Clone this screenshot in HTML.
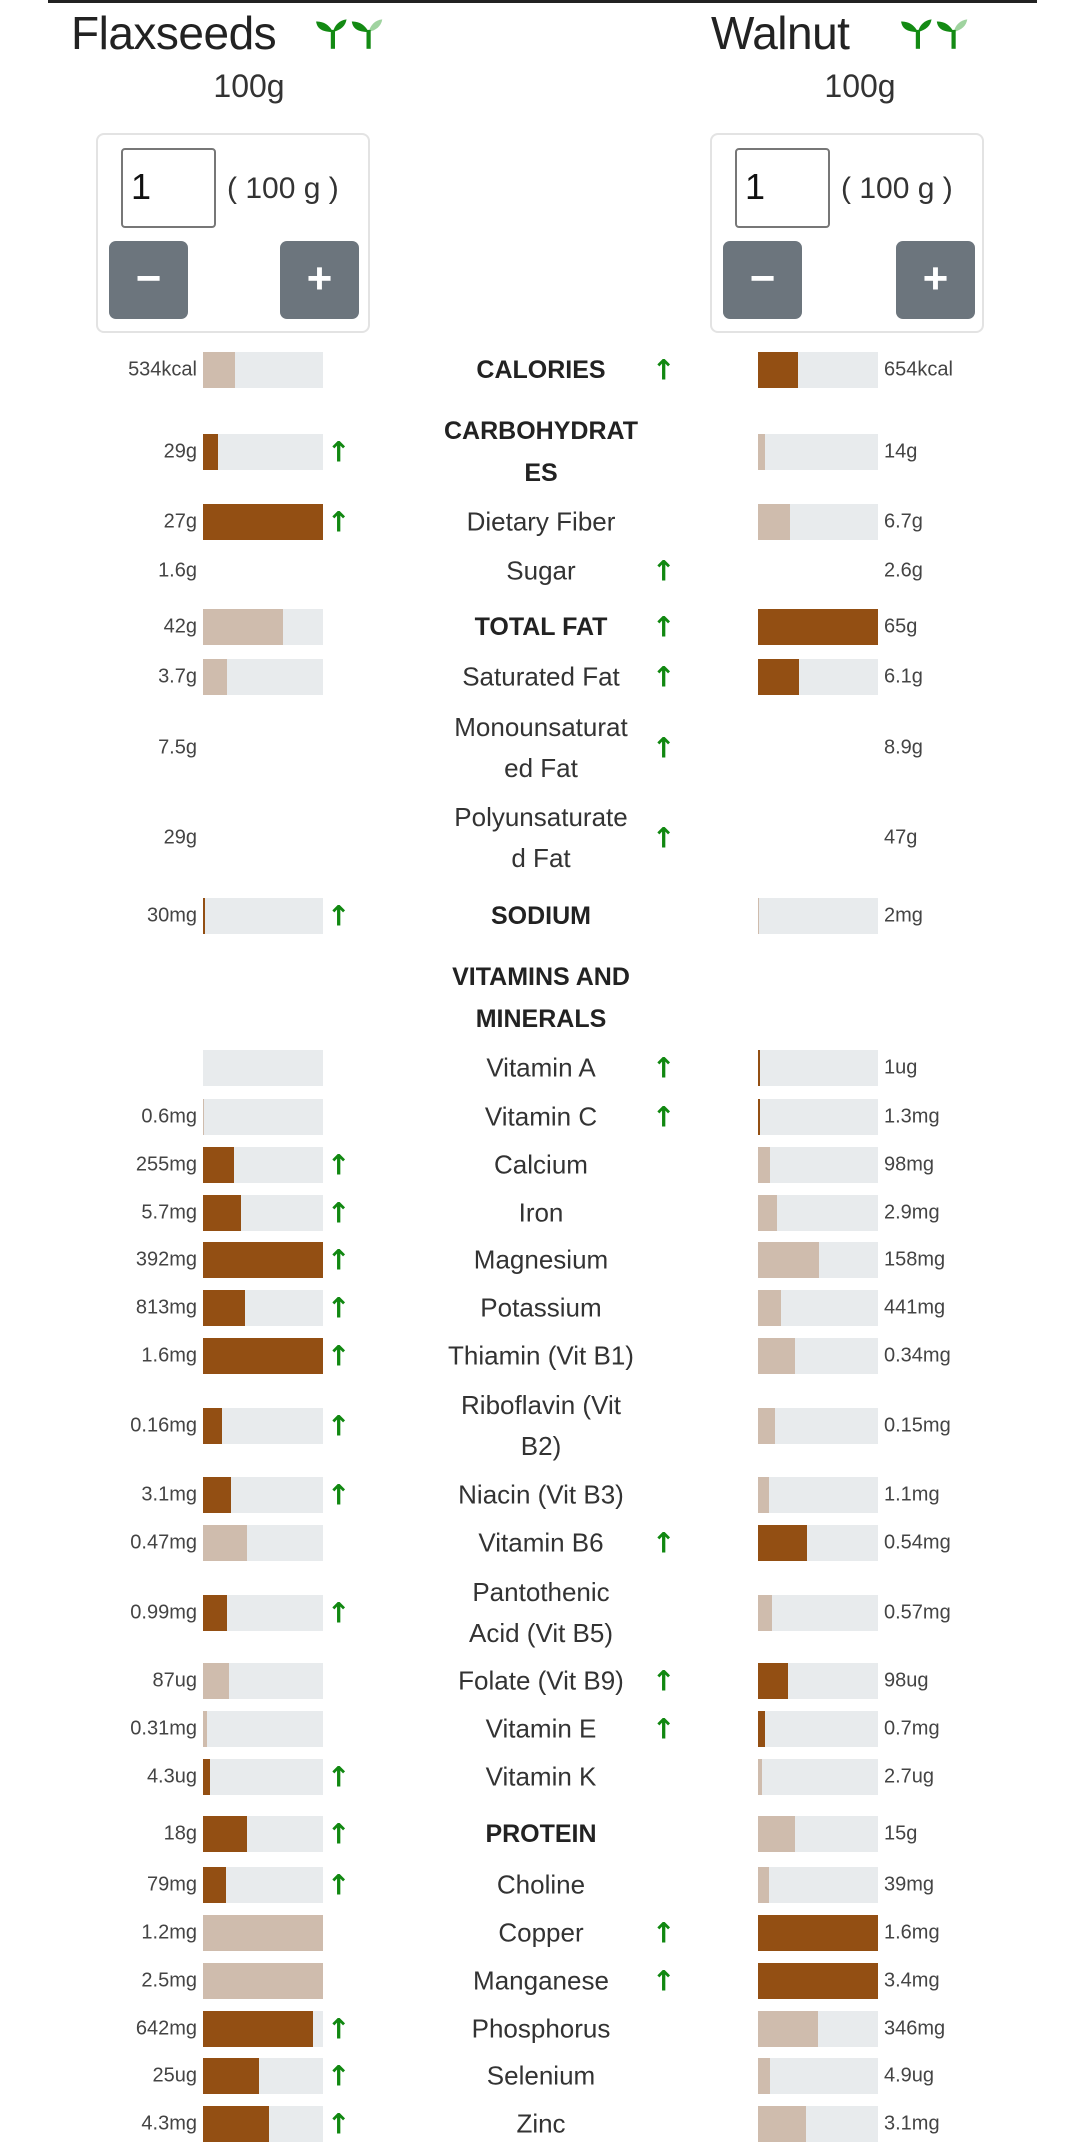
<!DOCTYPE html>
<html><head><meta charset="utf-8"><style>
*{margin:0;padding:0;box-sizing:border-box}
body{width:1080px;height:2134px;background:#fff;position:relative;overflow:hidden;font-family:"Liberation Sans",sans-serif;color:#333}
.top{position:absolute;left:48px;top:0;width:989px;height:3px;background:#222}
.title{position:absolute;top:6px;font-size:46px;color:#222;letter-spacing:-0.5px}
.g{position:absolute;top:68px;font-size:32px;color:#333;width:200px;text-align:center}
.box{position:absolute;top:133px;width:274px;height:200px;border:2px solid #e3e3e3;border-radius:8px}
.inp{position:absolute;top:13px;left:23px;width:95px;height:80px;border:2px solid #777;border-radius:4px;font-size:36px;padding:16px 0 0 8px;color:#111}
.gg{position:absolute;top:37px;left:129px;font-size:30px;color:#333}
.btn{position:absolute;top:106px;width:79px;height:78px;background:#6c757d;border-radius:7px;color:#fff;font-size:44px;font-weight:bold;text-align:center;line-height:76px}
.row{position:absolute;left:0;width:1080px;height:0}
.row>*{position:absolute;top:0;transform:translateY(-50%)}
.v{font-size:20px;color:#444;white-space:nowrap}
.vl{right:883px}.vr{left:884px}
.b{height:36px;width:120px;background:#e8ebed}
.bl{left:203px}.br{left:758px}
.b i{display:block;height:100%}
.d{background:#934f13}.l{background:#cfbcad}
.lab{left:431px;width:220px;text-align:center;font-size:26px;color:#333;line-height:41px}
.lab b{font-weight:bold;font-size:25px;color:#222}
.a{font-family:"DejaVu Sans",sans-serif;color:#118811;font-size:28px;font-weight:bold}
.al{left:327px}.ar{left:652px}
</style></head><body>
<div class="top"></div>
<div class="title" style="left:71px">Flaxseeds</div>
<svg style="position:absolute;left:314px;top:15px" width="84" height="34" viewBox="0 0 80 32"><g fill="#138a13"><path d="M18 32V16C14 8 8 6 2 6c1 7 6 10 16 10z"/><path d="M18 16c2-7 6-11 13-12-1 6-5 10-13 12z"/><path d="M52 32V16c-4-8-10-10-16-10 1 7 6 10 16 10z"/></g><path d="M52 16c2-7 6-11 13-12-1 6-5 10-13 12z" fill="#9fd39f"/><rect x="16" y="14" width="4" height="18" fill="#138a13"/><rect x="50" y="14" width="4" height="18" fill="#138a13"/></svg>
<div class="title" style="left:711px">Walnut</div>
<svg style="position:absolute;left:899px;top:15px" width="84" height="34" viewBox="0 0 80 32"><g fill="#138a13"><path d="M18 32V16C14 8 8 6 2 6c1 7 6 10 16 10z"/><path d="M18 16c2-7 6-11 13-12-1 6-5 10-13 12z"/><path d="M52 32V16c-4-8-10-10-16-10 1 7 6 10 16 10z"/></g><path d="M52 16c2-7 6-11 13-12-1 6-5 10-13 12z" fill="#9fd39f"/><rect x="16" y="14" width="4" height="18" fill="#138a13"/><rect x="50" y="14" width="4" height="18" fill="#138a13"/></svg>
<div class="g" style="left:149px">100g</div>
<div class="g" style="left:760px">100g</div>
<div class="box" style="left:96px"><div class="inp">1</div><div class="gg">( 100 g )</div><div class="btn" style="left:11px">−</div><div class="btn" style="left:182px">+</div></div>
<div class="box" style="left:710px"><div class="inp">1</div><div class="gg">( 100 g )</div><div class="btn" style="left:11px">−</div><div class="btn" style="left:184px">+</div></div>

<div class="row" style="top:370px"><div class="v vl">534kcal</div><div class="b bl"><i class="l" style="width:27%"></i></div><div class="lab"><b>CALORIES</b></div><div class="a ar">↑</div><div class="b br"><i class="d" style="width:33%"></i></div><div class="v vr">654kcal</div></div>
<div class="row" style="top:452px"><div class="v vl">29g</div><div class="b bl"><i class="d" style="width:12.5%"></i></div><div class="a al">↑</div><div class="lab"><b>CARBOHYDRAT<br>ES</b></div><div class="b br"><i class="l" style="width:6%"></i></div><div class="v vr">14g</div></div>
<div class="row" style="top:522px"><div class="v vl">27g</div><div class="b bl"><i class="d" style="width:100%"></i></div><div class="a al">↑</div><div class="lab">Dietary Fiber</div><div class="b br"><i class="l" style="width:27%"></i></div><div class="v vr">6.7g</div></div>
<div class="row" style="top:571px"><div class="v vl">1.6g</div><div class="lab">Sugar</div><div class="a ar">↑</div><div class="v vr">2.6g</div></div>
<div class="row" style="top:627px"><div class="v vl">42g</div><div class="b bl"><i class="l" style="width:67%"></i></div><div class="lab"><b>TOTAL FAT</b></div><div class="a ar">↑</div><div class="b br"><i class="d" style="width:100%"></i></div><div class="v vr">65g</div></div>
<div class="row" style="top:677px"><div class="v vl">3.7g</div><div class="b bl"><i class="l" style="width:20%"></i></div><div class="lab">Saturated Fat</div><div class="a ar">↑</div><div class="b br"><i class="d" style="width:34%"></i></div><div class="v vr">6.1g</div></div>
<div class="row" style="top:748px"><div class="v vl">7.5g</div><div class="lab">Monounsaturat<br>ed Fat</div><div class="a ar">↑</div><div class="v vr">8.9g</div></div>
<div class="row" style="top:838px"><div class="v vl">29g</div><div class="lab">Polyunsaturate<br>d Fat</div><div class="a ar">↑</div><div class="v vr">47g</div></div>
<div class="row" style="top:916px"><div class="v vl">30mg</div><div class="b bl"><i class="d" style="width:2%"></i></div><div class="a al">↑</div><div class="lab"><b>SODIUM</b></div><div class="b br"><i class="l" style="width:1%"></i></div><div class="v vr">2mg</div></div>
<div class="row" style="top:998px"><div class="lab"><b>VITAMINS AND<br>MINERALS</b></div></div>
<div class="row" style="top:1068px"><div class="b bl"></div><div class="lab">Vitamin A</div><div class="a ar">↑</div><div class="b br"><i class="d" style="width:1.5%"></i></div><div class="v vr">1ug</div></div>
<div class="row" style="top:1117px"><div class="v vl">0.6mg</div><div class="b bl"><i class="l" style="width:1%"></i></div><div class="lab">Vitamin C</div><div class="a ar">↑</div><div class="b br"><i class="d" style="width:2%"></i></div><div class="v vr">1.3mg</div></div>
<div class="row" style="top:1165px"><div class="v vl">255mg</div><div class="b bl"><i class="d" style="width:26%"></i></div><div class="a al">↑</div><div class="lab">Calcium</div><div class="b br"><i class="l" style="width:10%"></i></div><div class="v vr">98mg</div></div>
<div class="row" style="top:1213px"><div class="v vl">5.7mg</div><div class="b bl"><i class="d" style="width:32%"></i></div><div class="a al">↑</div><div class="lab">Iron</div><div class="b br"><i class="l" style="width:16%"></i></div><div class="v vr">2.9mg</div></div>
<div class="row" style="top:1260px"><div class="v vl">392mg</div><div class="b bl"><i class="d" style="width:100%"></i></div><div class="a al">↑</div><div class="lab">Magnesium</div><div class="b br"><i class="l" style="width:51%"></i></div><div class="v vr">158mg</div></div>
<div class="row" style="top:1308px"><div class="v vl">813mg</div><div class="b bl"><i class="d" style="width:35%"></i></div><div class="a al">↑</div><div class="lab">Potassium</div><div class="b br"><i class="l" style="width:19%"></i></div><div class="v vr">441mg</div></div>
<div class="row" style="top:1356px"><div class="v vl">1.6mg</div><div class="b bl"><i class="d" style="width:100%"></i></div><div class="a al">↑</div><div class="lab">Thiamin (Vit B1)</div><div class="b br"><i class="l" style="width:31%"></i></div><div class="v vr">0.34mg</div></div>
<div class="row" style="top:1426px"><div class="v vl">0.16mg</div><div class="b bl"><i class="d" style="width:16%"></i></div><div class="a al">↑</div><div class="lab">Riboflavin (Vit<br>B2)</div><div class="b br"><i class="l" style="width:14%"></i></div><div class="v vr">0.15mg</div></div>
<div class="row" style="top:1495px"><div class="v vl">3.1mg</div><div class="b bl"><i class="d" style="width:23%"></i></div><div class="a al">↑</div><div class="lab">Niacin (Vit B3)</div><div class="b br"><i class="l" style="width:9%"></i></div><div class="v vr">1.1mg</div></div>
<div class="row" style="top:1543px"><div class="v vl">0.47mg</div><div class="b bl"><i class="l" style="width:37%"></i></div><div class="lab">Vitamin B6</div><div class="a ar">↑</div><div class="b br"><i class="d" style="width:41%"></i></div><div class="v vr">0.54mg</div></div>
<div class="row" style="top:1613px"><div class="v vl">0.99mg</div><div class="b bl"><i class="d" style="width:20%"></i></div><div class="a al">↑</div><div class="lab">Pantothenic<br>Acid (Vit B5)</div><div class="b br"><i class="l" style="width:12%"></i></div><div class="v vr">0.57mg</div></div>
<div class="row" style="top:1681px"><div class="v vl">87ug</div><div class="b bl"><i class="l" style="width:22%"></i></div><div class="lab">Folate (Vit B9)</div><div class="a ar">↑</div><div class="b br"><i class="d" style="width:25%"></i></div><div class="v vr">98ug</div></div>
<div class="row" style="top:1729px"><div class="v vl">0.31mg</div><div class="b bl"><i class="l" style="width:3%"></i></div><div class="lab">Vitamin E</div><div class="a ar">↑</div><div class="b br"><i class="d" style="width:6%"></i></div><div class="v vr">0.7mg</div></div>
<div class="row" style="top:1777px"><div class="v vl">4.3ug</div><div class="b bl"><i class="d" style="width:6%"></i></div><div class="a al">↑</div><div class="lab">Vitamin K</div><div class="b br"><i class="l" style="width:3%"></i></div><div class="v vr">2.7ug</div></div>
<div class="row" style="top:1834px"><div class="v vl">18g</div><div class="b bl"><i class="d" style="width:37%"></i></div><div class="a al">↑</div><div class="lab"><b>PROTEIN</b></div><div class="b br"><i class="l" style="width:31%"></i></div><div class="v vr">15g</div></div>
<div class="row" style="top:1885px"><div class="v vl">79mg</div><div class="b bl"><i class="d" style="width:19%"></i></div><div class="a al">↑</div><div class="lab">Choline</div><div class="b br"><i class="l" style="width:9%"></i></div><div class="v vr">39mg</div></div>
<div class="row" style="top:1933px"><div class="v vl">1.2mg</div><div class="b bl"><i class="l" style="width:100%"></i></div><div class="lab">Copper</div><div class="a ar">↑</div><div class="b br"><i class="d" style="width:100%"></i></div><div class="v vr">1.6mg</div></div>
<div class="row" style="top:1981px"><div class="v vl">2.5mg</div><div class="b bl"><i class="l" style="width:100%"></i></div><div class="lab">Manganese</div><div class="a ar">↑</div><div class="b br"><i class="d" style="width:100%"></i></div><div class="v vr">3.4mg</div></div>
<div class="row" style="top:2029px"><div class="v vl">642mg</div><div class="b bl"><i class="d" style="width:92%"></i></div><div class="a al">↑</div><div class="lab">Phosphorus</div><div class="b br"><i class="l" style="width:50%"></i></div><div class="v vr">346mg</div></div>
<div class="row" style="top:2076px"><div class="v vl">25ug</div><div class="b bl"><i class="d" style="width:47%"></i></div><div class="a al">↑</div><div class="lab">Selenium</div><div class="b br"><i class="l" style="width:10%"></i></div><div class="v vr">4.9ug</div></div>
<div class="row" style="top:2124px"><div class="v vl">4.3mg</div><div class="b bl"><i class="d" style="width:55%"></i></div><div class="a al">↑</div><div class="lab">Zinc</div><div class="b br"><i class="l" style="width:40%"></i></div><div class="v vr">3.1mg</div></div>
</body></html>
